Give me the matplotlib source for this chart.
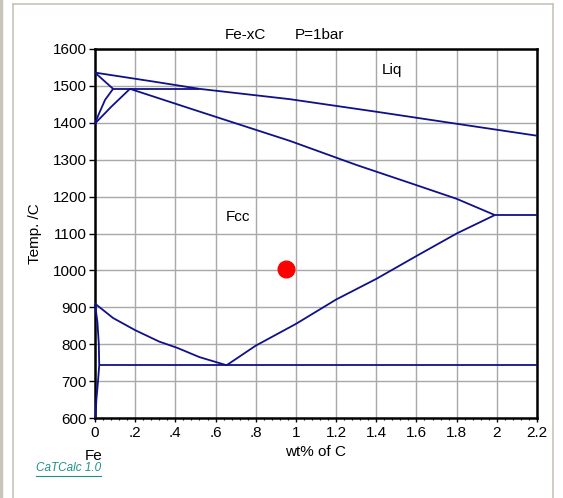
import numpy as np
import matplotlib as mpl
mpl.use('Agg')
import matplotlib.pyplot as plt
from matplotlib.ticker import MultipleLocator
from matplotlib.lines import Line2D

# phase boundaries, wt% C vs temperature (C)
liq_x = [0.0, 0.3, 0.52, 0.97, 1.4, 1.78, 2.2]
liq_t = [1536, 1511, 1492, 1464, 1430, 1399, 1365]

delta_sol_x = [0.0, 0.09]
delta_sol_t = [1536, 1492]

peri_x = [0.09, 0.52]
peri_t = [1492, 1492]

delta_gam_x = [0.0, 0.02, 0.05, 0.09]
delta_gam_t = [1398, 1425, 1462, 1492]

gam_delta_x = [0.0, 0.08, 0.174]
gam_delta_t = [1398, 1443, 1492]

sol_x = [0.174, 0.5, 0.97, 1.3, 1.6, 1.8, 1.99]
sol_t = [1492, 1434, 1351, 1286, 1231, 1194, 1150]

eut_x = [1.99, 2.2]
eut_t = [1150, 1150]

acm_x = [0.655, 0.8, 1.0, 1.2, 1.4, 1.6, 1.8, 1.99]
acm_t = [743, 796, 855, 921, 977, 1039, 1100, 1150]

a3_x = [0.0, 0.09, 0.2, 0.32, 0.41, 0.52, 0.655]
a3_t = [910, 871, 838, 807, 790, 765, 743]

alpha_x = [0.0, 0.012, 0.019, 0.021]
alpha_t = [910, 860, 800, 743]

solvus_x = [0.021, 0.015, 0.007, 0.002]
solvus_t = [743, 700, 650, 600]

eutectoid_x = [0.021, 2.2]
eutectoid_t = [743, 743]

point_x = [0.95]
point_t = [1005]

x_ticks = [0, 0.2, 0.4, 0.6, 0.8, 1.0, 1.2, 1.4, 1.6, 1.8, 2.0, 2.2]
x_labels = ['0', '.2', '.4', '.6', '.8', '1', '1.2', '1.4', '1.6', '1.8', '2', '2.2']
y_ticks = list(range(600, 1601, 100))

plt.rcParams['font.family'] = ['Liberation Sans', 'DejaVu Sans']
plt.rcParams['font.size'] = 11

navy = '#10108a'
fig = plt.figure(figsize=(5.63, 4.98), dpi=100)
ax = fig.add_axes([95/563, 1 - 418/498, 442/563, 369/498])

# outer page frame
fig.add_artist(Line2D([13/563, 13/563], [0, 1 - 4/498], color='#c8c4b8', lw=1.2))
fig.add_artist(Line2D([553/563, 553/563], [0, 1 - 4/498], color='#c8c4b8', lw=1.2))
fig.add_artist(Line2D([13/563, 553/563], [1 - 4/498, 1 - 4/498], color='#c8c4b8', lw=1.2))
fig.add_artist(Line2D([1/563, 1/563], [0, 1], color='#c8c4b8', lw=2.5))

for xs, ts in [(liq_x, liq_t), (delta_sol_x, delta_sol_t), (peri_x, peri_t),
               (delta_gam_x, delta_gam_t), (gam_delta_x, gam_delta_t),
               (sol_x, sol_t), (eut_x, eut_t), (acm_x, acm_t), (a3_x, a3_t),
               (alpha_x, alpha_t), (solvus_x, solvus_t), (eutectoid_x, eutectoid_t)]:
    ax.plot(xs, ts, color=navy, lw=1.3, solid_capstyle='butt', clip_on=False, zorder=3)

ax.plot(point_x, point_t, 'o', color='#ff0000', ms=12, zorder=4)

ax.set_xlim(0, 2.2)
ax.set_ylim(600, 1600)
ax.set_xticks(x_ticks)
ax.set_xticklabels(x_labels)
ax.set_yticks(y_ticks)
ax.xaxis.set_minor_locator(MultipleLocator(0.04))
ax.tick_params(axis='both', which='major', direction='out', length=3, width=1, pad=3)
ax.tick_params(axis='x', which='minor', direction='out', length=1.5, width=0.8)
ax.tick_params(axis='y', which='major', length=4, pad=2)
ax.grid(True, which='major', color='#a8a8a8', lw=1)
ax.set_axisbelow(True)
for s in ax.spines.values():
    s.set_linewidth(1.8)
    s.set_color('black')

ax.set_xlabel('wt% of C', labelpad=3)
ax.set_ylabel('Temp. /C', labelpad=8)

ax.text(1.48, 1543, 'Liq', ha='center', va='center')
ax.text(0.71, 1145, 'Fcc', ha='center', va='center')

fig.text(245/563, 1 - 35/498, 'Fe-xC', ha='center', va='center')
fig.text(320/563, 1 - 35/498, 'P=1bar', ha='center', va='center')
fig.text(94/563, 1 - 456/498, 'Fe', ha='center', va='center')
fig.text(36/563, 1 - 468/498, 'CaTCalc 1.0', ha='left', va='center',
         color='#20908c', fontsize=8.5, style='italic')
fig.add_artist(Line2D([36/563, 101/563], [1 - 476/498, 1 - 476/498], color='#20908c', lw=0.8))

fig.savefig('out.png', dpi=100)
